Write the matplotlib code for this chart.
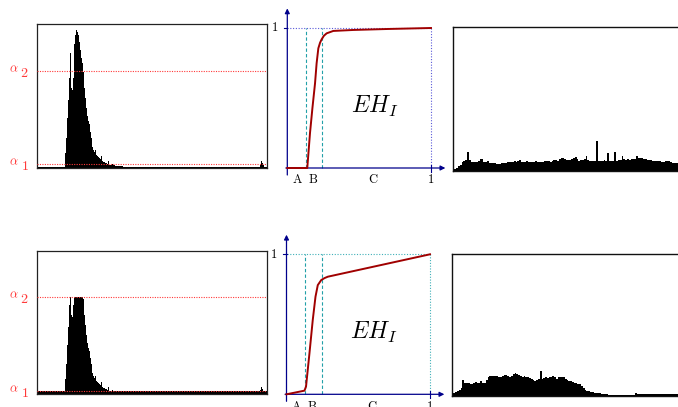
import numpy as np
import matplotlib
matplotlib.use("Agg")
import matplotlib.pyplot as plt

plt.rcParams['mathtext.fontset'] = 'cm'
plt.rcParams['font.family'] = ['DejaVu Serif']

# ---------------- data ----------------
# input histogram (256 grey levels), values in count units (axis top = 144)
hist_start_bin = 32
hist_values = [15, 30, 50, 68, 90, 115, 80, 78, 90, 101, 124, 133, 138, 136, 133, 126,
               118, 110, 105, 116, 96, 80, 70, 60, 52, 47, 44, 36, 30, 24, 21, 18,
               16, 18, 13, 12, 11, 10, 9, 9, 12, 7.5, 6.5, 6, 5.5, 5, 4.5, 7, 4, 3.5,
               3.3, 3, 4, 2.8, 2.6, 2.5, 2.3, 2.2, 2.1, 2, 2, 1.9, 1.8, 1.8]
hist_floor = 1.2
hist_tail_bins = [248, 249, 250, 251, 252]
hist_tail_values = [2, 4, 7, 5, 3]
hist_ymax = 144
alpha1 = 3.7
alpha2 = 97.7

# equalised histograms (128 bins of 2 grey levels)
eq_top = [1, 2, 3, 5, 6, 9, 10, 11, 19, 11, 9, 8.5, 9, 9, 10, 11.5, 12, 9, 8.5, 10,
          8, 8, 7.5, 7.5, 7, 7, 7, 7.5, 8, 8, 8.5, 9, 8.5, 9, 9.5, 9, 10, 10.5, 9, 9,
          9, 9.5, 9, 9, 8.5, 9, 9.5, 9, 9, 9, 9, 9.5, 10, 9.5, 9, 10, 11, 10.5, 10, 11.5,
          12.5, 13, 12, 11, 10.5, 11, 12, 12.5, 14, 12, 10, 10.5, 11, 12, 15, 11, 10, 9.5,
          9.5, 10, 29.5, 10, 9.5, 10, 10.5, 10, 18, 10, 9.5, 10, 19, 10, 10.5, 11, 14.5, 12,
          11, 11.5, 11, 12, 11.5, 12, 15, 13, 12.5, 13, 12, 11.5, 11, 11, 10.5, 10, 10, 9.5,
          9.5, 9.5, 9, 9, 9.5, 10, 9.5, 8.5, 8, 8, 8, 8, 8, 8]
eq_bottom = [1, 2.5, 3.5, 4.5, 5.5, 8, 15.5, 13, 12.5, 13, 12, 11.5, 13, 14, 13, 12.5,
             15, 13, 12.5, 16, 19, 20, 20.5, 20.5, 20.5, 20, 19.5, 19.5, 20.5, 21.5, 21, 20,
             19.5, 20.5, 22, 23, 22.5, 21.5, 20, 19.5, 20, 19.5, 19, 18, 17, 16, 15, 16,
             17, 25, 17, 17.5, 19, 18, 18.5, 19.5, 20.5, 19, 17, 18.5, 19.5, 19.5, 18.5, 17,
             16, 15, 14.5, 14, 13, 12.5, 12, 11.5, 10, 7.5, 6, 5, 4.5, 4, 3.5, 3,
             2.8, 2.5, 2.3, 2, 1.8, 1.5, 1.3, 1, 1, 1, 1, 1, 1, 1, 1, 1,
             1, 1, 1, 1, 1, 1, 2.3, 1.8, 1.8, 1.8, 1.8, 1.8, 1.8, 1.8, 1.8, 1.8,
             1.8, 1.8, 1.8, 1.8, 1.8, 1.8, 1.8, 1.8, 1.8, 1.8, 1.8, 1.8, 1.8, 1.8, 1.8, 1.8]

# transfer functions EH_I
eh_top_x = [0, 0.139, 0.158, 0.175, 0.193, 0.204, 0.216, 0.228, 0.239, 0.255, 0.274, 0.32, 0.46, 0.7, 1.0]
eh_top_y = [0, 0, 0.25, 0.43, 0.605, 0.748, 0.855, 0.895, 0.919, 0.945, 0.962, 0.979, 0.986, 0.993, 1.0]
eh_bot_x = [0, 0.125, 0.136, 0.16, 0.183, 0.202, 0.218, 0.242, 0.265, 0.288, 1.0]
eh_bot_y = [0, 0.026, 0.055, 0.293, 0.531, 0.697, 0.78, 0.816, 0.83, 0.84, 1.0]
marker_A = 0.128
marker_B = 0.244
x_labels = ['A', 'B', 'C', '1']
x_label_pos = [0.07, 0.18, 0.60, 1.0]

# ---------------- figure ----------------
W, H = 678, 407
fig = plt.figure(figsize=(W / 100, H / 100), dpi=100)


def px_axes(left, right, top, bottom):
    return fig.add_axes([left / W, (H - bottom) / H, (right - left) / W, (bottom - top) / H])


def full_hist():
    h = np.full(256, hist_floor)
    h[hist_start_bin:hist_start_bin + len(hist_values)] = hist_values
    h[hist_tail_bins] = hist_tail_values
    return h


red = '#ff3a3a'


def hist_panel(ax, h):
    ax.bar(np.arange(256), h, width=1.0, align='edge', color='black', linewidth=0)
    ax.set_xlim(0, 256)
    ax.set_ylim(0, hist_ymax)
    ax.set_xticks([])
    ax.set_yticks([])
    for s in ax.spines.values():
        s.set_linewidth(0.9)
        s.set_color('#222222')
    for a, d in ((alpha1, '1'), (alpha2, '2')):
        ax.axhline(a, color=red, lw=0.8, ls=(0, (1, 1.2)), zorder=3)
        tr = ax.get_yaxis_transform()
        ax.annotate(r'$\alpha$', xy=(0, a), xycoords=tr, xytext=(-16.5, 1.5),
                    textcoords='offset points', ha='center', va='center',
                    color=red, fontsize=9, annotation_clip=False)
        ax.annotate(r'$\mathrm{' + d + '}$', xy=(0, a), xycoords=tr, xytext=(-8.8, -1.5),
                    textcoords='offset points', ha='center', va='center',
                    color=red, fontsize=10, annotation_clip=False)


def eq_panel(ax, vals):
    ax.bar(np.arange(len(vals)) * 2, vals, width=2.0, align='edge', color='black', linewidth=0)
    ax.set_xlim(0, 256)
    ax.set_ylim(0, hist_ymax)
    ax.set_xticks([])
    ax.set_yticks([])
    for s in ax.spines.values():
        s.set_linewidth(1.0)
        s.set_color('#111111')


navy = '#00008b'


def curve_panel(ax, xs, ys, dot_color):
    ax.set_xlim(0, 1)
    ax.set_ylim(0, 1)
    ax.axis('off')
    ax.plot([0, 1], [1, 1], color=dot_color, lw=0.8, ls=(0, (1, 1.5)), clip_on=False)
    ax.plot([1, 1], [0, 1], color=dot_color, lw=0.8, ls=(0, (1, 1.5)), clip_on=False)
    for m in (marker_A, marker_B):
        ax.plot([m, m], [0, 1], color='#22a0a8', lw=0.8, ls=(0, (3, 2)), clip_on=False)
    ax.plot(xs, ys, color='#a00000', lw=1.4, clip_on=False, zorder=5)
    ax.annotate('', xy=(1.1, 0), xytext=(-0.01, 0),
                arrowprops=dict(arrowstyle='-|>', color=navy, lw=0.9, mutation_scale=7,
                                shrinkA=0, shrinkB=0), annotation_clip=False)
    ax.annotate('', xy=(0, 1.14), xytext=(0, -0.05),
                arrowprops=dict(arrowstyle='-|>', color=navy, lw=0.9, mutation_scale=7,
                                shrinkA=0, shrinkB=0), annotation_clip=False)
    ax.plot([1, 1], [-0.025, 0.025], color=navy, lw=0.8, clip_on=False)
    ax.plot([-0.025, 0], [1, 1], color=navy, lw=0.8, clip_on=False)
    ax.text(-0.09, 1.0, r'$1$', ha='center', va='center', fontsize=9)
    for lab, xp in zip(x_labels, x_label_pos):
        ax.text(xp, -0.085, r'$\mathrm{' + lab + '}$', ha='center', va='center', fontsize=9)
    ax.text(0.61, 0.44, r'$EH_I$', ha='center', va='center', fontsize=17)


h_in = full_hist()
h_out = np.clip(h_in, alpha1, alpha2)

ax1 = px_axes(36.7, 266.7, 24.3, 168)
hist_panel(ax1, h_in)
ax4 = px_axes(36.7, 266.7, 251, 394.3)
hist_panel(ax4, h_out)

ax2 = px_axes(287.3, 431, 28, 168)
curve_panel(ax2, eh_top_x, eh_top_y, '#5a5ad8')
ax5 = px_axes(286.5, 430, 254.3, 394.3)
curve_panel(ax5, eh_bot_x, eh_bot_y, '#40b0b8')

ax3 = px_axes(452.7, 682.7, 27.3, 170.7)
eq_panel(ax3, eq_top)
ax6 = px_axes(451.7, 681.7, 254, 395.7)
eq_panel(ax6, eq_bottom)

fig.savefig('out.png', dpi=100)
